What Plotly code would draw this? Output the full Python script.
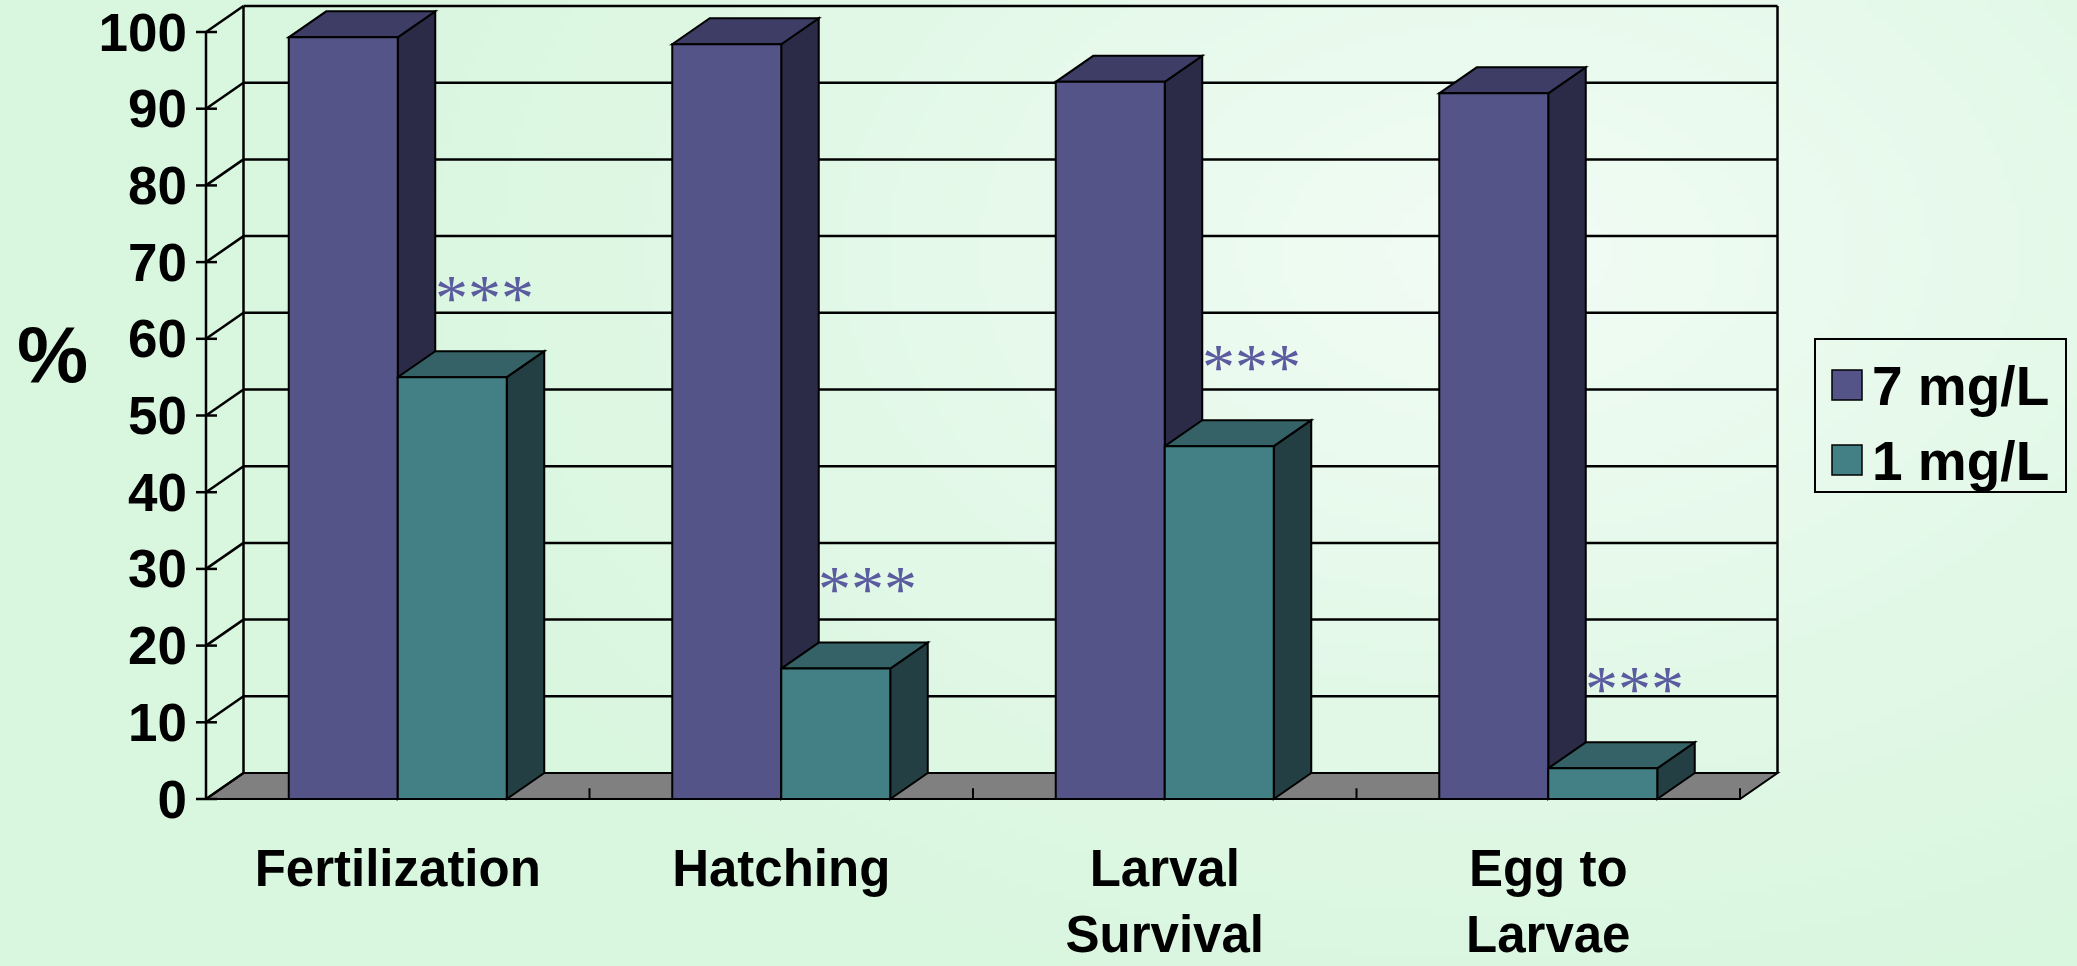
import base64
import struct
import zlib

import numpy as np
import plotly.graph_objects as go

# ---------------------------------------------------------------- data
categories = ["Fertilization", "Hatching", "Larval<br>Survival", "Egg to<br>Larvae"]
series_names = ["7 mg/L", "1 mg/L"]
high_oxygen = [99.3, 98.4, 93.5, 92]   # 7 mg/L
low_oxygen = [55, 17, 46, 4]           # 1 mg/L
significance = ["***", "***", "***", "***"]
y_ticks = [0, 10, 20, 30, 40, 50, 60, 70, 80, 90, 100]
y_title = "%"

# ---------------------------------------------------------------- geometry
W, H = 2077, 966
PLOT_L, PLOT_R, PLOT_T, PLOT_B = 150, 1800, 0, 805   # plot area in pixels
X_ORIGIN_PX = 206        # pixel column of the front value axis
PX_PER_CAT = 383.5       # pixels per category slot
Y_ZERO_PX = 799          # pixel row of value 0 on the front plane
PX_PER_UNIT = 7.67       # pixels per percentage point

X_LEFT = -0.5
X_RIGHT = len(categories) - 0.5
x_range = [(PLOT_L - X_ORIGIN_PX) / PX_PER_CAT + X_LEFT,
           (PLOT_R - X_ORIGIN_PX) / PX_PER_CAT + X_LEFT]
y_range = [(Y_ZERO_PX - PLOT_B) / PX_PER_UNIT,
           (Y_ZERO_PX - PLOT_T) / PX_PER_UNIT]

# depth of the pseudo-3D box, in data units
DX = 37.5 / PX_PER_CAT
DY = 26.0 / PX_PER_UNIT

BAR_W = 109 / PX_PER_CAT
GROUP_W = 2 * BAR_W
MARK_OFFSET = 10.4       # height of the significance marks above a column

FONT = "Liberation Sans, Arial, sans-serif"
LINE = dict(color="black", width=2.5)
EDGE = dict(color="black", width=2)

styles = [
    dict(front="#545488", side="#2b2b47", top="#3d3d66"),
    dict(front="#428085", side="#233f43", top="#346266"),
]


def px(x):
    return x / W


def py(y):
    return 1 - y / H


def png_data_uri(rgb):
    h, w, _ = rgb.shape
    raw = b"".join(b"\x00" + rgb[r].tobytes() for r in range(h))

    def chunk(tag, data):
        body = tag + data
        return struct.pack(">I", len(data)) + body + struct.pack(">I", zlib.crc32(body) & 0xFFFFFFFF)

    png = (b"\x89PNG\r\n\x1a\n"
           + chunk(b"IHDR", struct.pack(">IIBBBBB", w, h, 8, 2, 0, 0, 0))
           + chunk(b"IDAT", zlib.compress(raw, 9))
           + chunk(b"IEND", b""))
    return "data:image/png;base64," + base64.b64encode(png).decode()


# soft mint background, brighter towards the upper right
gw, gh = 260, 121
gx, gy = np.meshgrid(np.linspace(0, W, gw), np.linspace(0, H, gh))
dist = np.sqrt(((gx - 1500) / 1200) ** 2 + ((gy - 250) / 800) ** 2)
t = np.clip(1 - dist, 0, 1) ** 1.2
base = np.array([217, 246, 223], dtype=float)
light = np.array([242, 252, 245], dtype=float)
bg = (base[None, None, :] * (1 - t[..., None]) + light[None, None, :] * t[..., None])
bg_uri = png_data_uri(bg.round().astype(np.uint8))

fig = go.Figure()

# front faces of the columns
for name, values, st in zip(series_names, [high_oxygen, low_oxygen], styles):
    fig.add_trace(go.Bar(
        x=list(range(len(categories))), y=values, name=name,
        marker=dict(color=st["front"], line=EDGE),
        showlegend=False, hoverinfo="skip",
    ))

shapes = []

# floor
shapes.append(dict(
    type="path", xref="x", yref="y", layer="below",
    path=f"M {X_LEFT},0 L {X_RIGHT},0 L {X_RIGHT + DX},{DY} L {X_LEFT + DX},{DY} Z",
    fillcolor="#808080", line=EDGE,
))
# category dividers on the floor edge
for k in range(1, len(categories) + 1):
    xb = X_LEFT + k
    shapes.append(dict(type="line", xref="x", yref="y", layer="below",
                       x0=xb, x1=xb, y0=0, y1=1.4, line=dict(color="black", width=2)))

# back wall gridlines, left wall diagonals and front ticks
for v in y_ticks:
    if v > 0:
        shapes.append(dict(type="line", xref="x", yref="y", layer="below",
                           x0=X_LEFT + DX, x1=X_RIGHT + DX, y0=v + DY, y1=v + DY, line=LINE))
    shapes.append(dict(type="line", xref="x", yref="y", layer="below",
                       x0=X_LEFT, x1=X_LEFT + DX, y0=v, y1=v + DY, line=LINE))
    shapes.append(dict(type="line", xref="x", yref="y", layer="below",
                       x0=X_LEFT - 10 / PX_PER_CAT, x1=X_LEFT + 11 / PX_PER_CAT,
                       y0=v, y1=v, line=LINE))

top_v = y_ticks[-1]
for x_edge in (X_LEFT + DX, X_RIGHT + DX):
    shapes.append(dict(type="line", xref="x", yref="y", layer="below",
                       x0=x_edge, x1=x_edge, y0=DY, y1=top_v + DY, line=LINE))
shapes.append(dict(type="line", xref="x", yref="y", layer="below",
                   x0=X_LEFT, x1=X_LEFT, y0=0, y1=top_v, line=LINE))

# side and top faces of the columns
for s, (values, st) in enumerate(zip([high_oxygen, low_oxygen], styles)):
    for k, v in enumerate(values):
        left = k - GROUP_W / 2 + s * BAR_W
        right = left + BAR_W
        shapes.append(dict(
            type="path", xref="x", yref="y", layer="below",
            path=(f"M {right},0 L {right + DX},{DY} L {right + DX},{v + DY} "
                  f"L {right},{v} Z"),
            fillcolor=st["side"], line=EDGE,
        ))
        shapes.append(dict(
            type="path", xref="x", yref="y", layer="below",
            path=(f"M {left},{v} L {right},{v} L {right + DX},{v + DY} "
                  f"L {left + DX},{v + DY} Z"),
            fillcolor=st["top"], line=EDGE,
        ))

# legend box
shapes.append(dict(type="rect", xref="paper", yref="paper",
                   x0=px(1815), x1=px(2066), y0=py(339), y1=py(492),
                   line=dict(color="black", width=2), fillcolor="rgba(0,0,0,0)"))
annotations = []
for i, (name, st) in enumerate(zip(series_names, styles)):
    top = 370 + i * 75
    shapes.append(dict(type="rect", xref="paper", yref="paper",
                       x0=px(1832), x1=px(1862), y0=py(top), y1=py(top + 30),
                       line=dict(color="black", width=1.5), fillcolor=st["front"]))
    annotations.append(dict(
        xref="paper", yref="paper", x=px(1870), y=py(top + 16),
        xanchor="left", yanchor="middle", showarrow=False, text=name,
        font=dict(family=FONT, size=55, color="black", weight="bold"),
    ))

# significance marks above the low-oxygen columns
for k, (v, mark) in enumerate(zip(low_oxygen, significance)):
    annotations.append(dict(
        xref="x", yref="y", x=k + BAR_W / 2, y=v + MARK_OFFSET,
        xshift=32, xanchor="center", yanchor="middle", showarrow=False,
        text=mark,
        font=dict(family="Liberation Serif, Times New Roman, serif", size=66, color="#5b5ba0"),
    ))

# value-axis title
annotations.append(dict(
    xref="paper", yref="paper", x=px(52), y=py(354),
    xanchor="center", yanchor="middle", showarrow=False, text=y_title,
    font=dict(family=FONT, size=80, color="black", weight="bold"),
))

fig.update_layout(
    width=W, height=H,
    margin=dict(l=0, r=0, t=0, b=0),
    paper_bgcolor="#dcf6e2",
    plot_bgcolor="rgba(0,0,0,0)",
    barmode="group",
    bargap=1 - GROUP_W,
    bargroupgap=0,
    showlegend=False,
    shapes=shapes,
    annotations=annotations,
    images=[dict(source=bg_uri, xref="paper", yref="paper", x=0, y=1,
                 sizex=1, sizey=1, sizing="stretch", layer="below",
                 xanchor="left", yanchor="top")],
    xaxis=dict(
        domain=[px(PLOT_L), px(PLOT_R)], range=x_range,
        tickvals=list(range(len(categories))), ticktext=categories,
        ticks="", showgrid=False, zeroline=False, showline=False,
        tickfont=dict(family=FONT, size=51, color="black", weight="bold"),
        ticklabelstandoff=29, automargin=False, fixedrange=True,
    ),
    yaxis=dict(
        domain=[py(PLOT_B), py(PLOT_T)], range=y_range,
        anchor="free", position=px(X_ORIGIN_PX),
        tickvals=y_ticks, ticks="", showgrid=False, zeroline=False, showline=False,
        tickfont=dict(family=FONT, size=53, color="black", weight="bold"),
        ticklabelstandoff=19, automargin=False, fixedrange=True,
    ),
)

fig.write_html("out.html")
